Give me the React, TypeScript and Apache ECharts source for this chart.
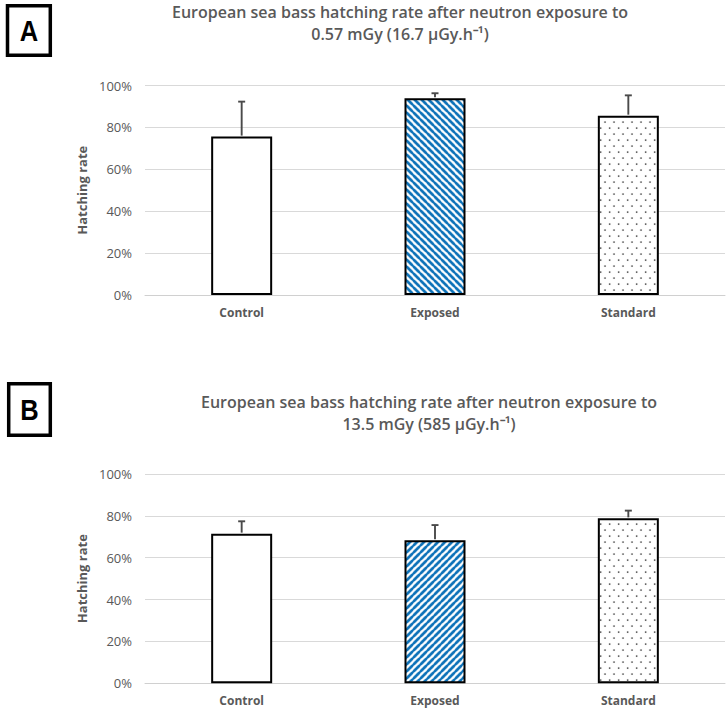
import React, { useEffect, useRef } from "react";
import * as echarts from "echarts";

// ---- data ----
const categories = ["Control", "Exposed", "Standard"];
const valuesA = [75.6, 93.9, 85.6];
const errorsA = [16.7, 2.4, 9.7];
const valuesB = [71.5, 68.3, 78.8];
const errorsB = [5.9, 7.3, 3.7];
const yMin = 0;
const yMax = 100;
const yStep = 20;
const titleA = "European sea bass hatching rate after neutron exposure to\n0.57 mGy (16.7 µGy.h⁻¹)";
const titleB = "European sea bass hatching rate after neutron exposure to\n13.5 mGy (585 µGy.h⁻¹)";
const panelLetters = ["A", "B"];
const yAxisName = "Hatching rate";

const GREY = "#595959";
const BLUE = "#0a70b8";

function makeStripes(dir: "down" | "up") {
  const p = 7;
  const s = 3;
  const c = document.createElement("canvas");
  c.width = p * s;
  c.height = p * s;
  const ctx = c.getContext("2d")!;
  ctx.scale(s, s);
  ctx.fillStyle = "#ffffff";
  ctx.fillRect(0, 0, p, p);
  ctx.strokeStyle = BLUE;
  ctx.lineWidth = 2.6;
  for (let k = -1; k <= 2; k++) {
    ctx.beginPath();
    if (dir === "down") {
      ctx.moveTo(-2, -2 + k * p);
      ctx.lineTo(p + 2, p + 2 + k * p);
    } else {
      ctx.moveTo(-2, k * p + 2);
      ctx.lineTo(p + 2, k * p - p - 2);
    }
    ctx.stroke();
  }
  return { image: c.toDataURL(), repeat: "repeat", imageWidth: p, imageHeight: p } as any;
}

function makeDots() {
  const w = 9;
  const h = 12;
  const s = 3;
  const c = document.createElement("canvas");
  c.width = w * s;
  c.height = h * s;
  const ctx = c.getContext("2d")!;
  ctx.scale(s, s);
  ctx.fillStyle = "#ffffff";
  ctx.fillRect(0, 0, w, h);
  ctx.fillStyle = "#1a1a1a";
  ctx.fillRect(1.5, 1.5, 1.2, 1.2);
  ctx.fillRect(6, 7.5, 1.2, 1.2);
  return { image: c.toDataURL(), repeat: "repeat", imageWidth: w, imageHeight: h } as any;
}

export default function App() {
  const ref = useRef<HTMLDivElement>(null);

  useEffect(() => {
    if (!ref.current) return;
    const chart = echarts.init(ref.current, undefined, { renderer: "svg" });

    const fillsA = ["#ffffff", makeStripes("down"), makeDots()];
    const fillsB = ["#ffffff", makeStripes("up"), makeDots()];

    const grids = [
      { left: 145, top: 85.5, width: 580, height: 209.5 },
      { left: 145, top: 474, width: 580, height: 209.3 },
    ];

    const xAxes = grids.map((_, i) => ({
      type: "category",
      gridIndex: i,
      data: categories,
      axisTick: { show: false },
      axisLine: { lineStyle: { color: "#d0d0d0", width: 1 } },
      axisLabel: {
        color: GREY,
        fontFamily: "Open Sans",
        fontWeight: "bold",
        fontSize: 12,
        margin: 11,
      },
    }));

    const yAxes = grids.map((_, i) => ({
      type: "value",
      gridIndex: i,
      min: yMin,
      max: yMax,
      interval: yStep,
      name: yAxisName,
      nameLocation: "middle",
      nameGap: 48,
      nameTextStyle: {
        color: GREY,
        fontFamily: "Open Sans",
        fontWeight: "bold",
        fontSize: 13,
      },
      axisLine: { show: false },
      axisTick: { show: false },
      splitLine: { lineStyle: { color: "#d9d9d9", width: 1 } },
      axisLabel: {
        formatter: "{value}%",
        color: GREY,
        fontFamily: "Open Sans",
        fontSize: 13,
        margin: 13,
      },
    }));

    const barSeries = (vals: number[], fills: any[], idx: number) => ({
      type: "bar",
      xAxisIndex: idx,
      yAxisIndex: idx,
      barWidth: 61,
      data: vals.map((v, i) => ({
        value: v,
        itemStyle: { color: fills[i], borderColor: "#000000", borderWidth: 2 },
      })),
      z: 2,
    });

    const errSeries = (vals: number[], errs: number[], idx: number) => ({
      type: "custom",
      xAxisIndex: idx,
      yAxisIndex: idx,
      clip: false,
      z: 5,
      encode: { x: 0, y: 1 },
      data: vals.map((v, i) => [i, v, errs[i]]),
      renderItem: (_params: any, api: any) => {
        const x = api.value(0);
        const v = api.value(1);
        const e = api.value(2);
        const base = api.coord([x, v]);
        const top = api.coord([x, v + e]);
        const st = { stroke: "#4a4a4a", lineWidth: 1.9 };
        return {
          type: "group",
          children: [
            { type: "line", shape: { x1: base[0], y1: base[1] - 1, x2: top[0], y2: top[1] }, style: st },
            { type: "line", shape: { x1: top[0] - 3.5, y1: top[1], x2: top[0] + 3.5, y2: top[1] }, style: st },
          ],
        };
      },
    });

    const letterBox = (letter: string, x: number, y: number, w: number, h: number) => ({
      type: "group",
      children: [
        {
          type: "rect",
          shape: { x, y, width: w, height: h },
          style: { fill: "#ffffff", stroke: "#000000", lineWidth: 3.5 },
        },
        {
          type: "text",
          x: x + w / 2,
          y: y + h / 2,
          scaleX: 0.88,
          style: {
            text: letter,
            textAlign: "center",
            textVerticalAlign: "middle",
            font: "bold 29px 'Liberation Sans', Arial, sans-serif",
            fill: "#000000",
          },
        },
      ],
    });

    const titleText = (text: string, x: number, y: number) => ({
      type: "text",
      x,
      y,
      style: {
        text,
        textAlign: "center",
        textVerticalAlign: "middle",
        font: "600 16px 'Open Sans', sans-serif",
        lineHeight: 22,
        fill: GREY,
      },
    });

    chart.setOption({
      animation: false,
      backgroundColor: "#ffffff",
      grid: grids,
      xAxis: xAxes,
      yAxis: yAxes,
      series: [
        barSeries(valuesA, fillsA, 0),
        errSeries(valuesA, errorsA, 0),
        barSeries(valuesB, fillsB, 1),
        errSeries(valuesB, errorsB, 1),
      ],
      graphic: [
        letterBox(panelLetters[0], 7.5, 5.7, 42.8, 49.6),
        letterBox(panelLetters[1], 8.7, 383.7, 41.6, 51.6),
        titleText(titleA, 400, 23),
        titleText(titleB, 429, 412.5),
      ],
    } as any);

    return () => chart.dispose();
  }, []);

  return (
    <div
      ref={ref}
      style={{ position: "fixed", left: 0, top: 0, width: 726, height: 711, background: "#fff" }}
    />
  );
}
